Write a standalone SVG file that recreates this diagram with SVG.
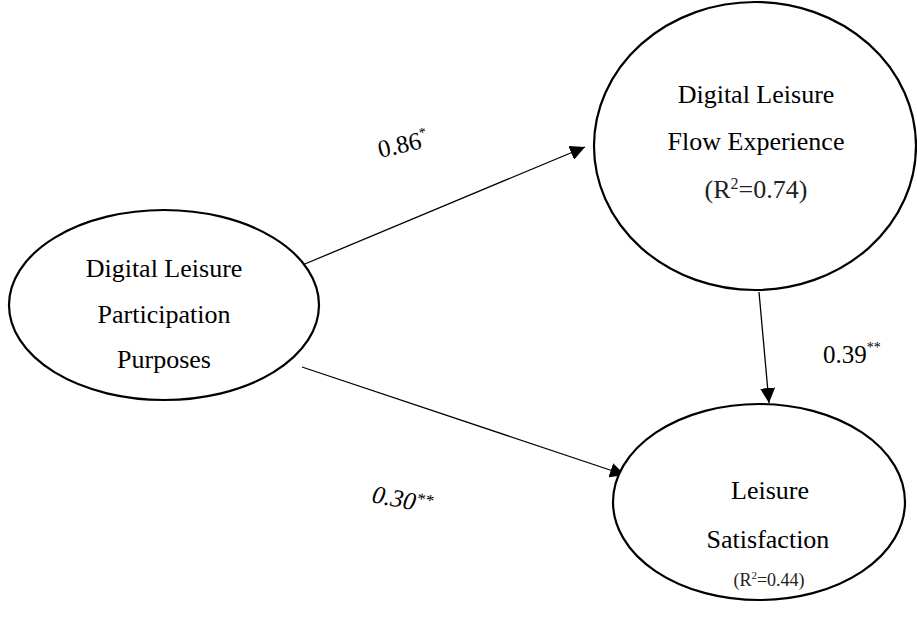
<svg xmlns="http://www.w3.org/2000/svg" width="917" height="632" viewBox="0 0 917 632">
<style>
.node{fill:#fff;stroke:#000;stroke-width:2.2}
.t{font-family:"Liberation Serif","Times New Roman",serif;font-size:26px;fill:#000;text-anchor:middle}
.r{fill:#222}
.lbl{font-family:"Liberation Serif","Times New Roman",serif;font-size:25px;fill:#000}
.edge{stroke:#000;stroke-width:1.3;fill:none;marker-end:url(#ah)}
</style>
<defs>
<marker id="ah" viewBox="0 0 10 10" refX="10" refY="5" markerWidth="15" markerHeight="15" markerUnits="userSpaceOnUse" orient="auto">
<path d="M0,0 L10,5 L0,10 z" fill="#000"/>
</marker>
</defs>
<rect width="917" height="632" fill="#fff"/>
<g id="connectors">
<line class="edge" x1="300" y1="266" x2="585" y2="147"/>
<line class="edge" x1="302" y1="367" x2="625" y2="475"/>
<line class="edge" x1="759" y1="292" x2="769" y2="403"/>
</g>
<g id="purposes">
<ellipse class="node" cx="164" cy="305" rx="155" ry="95"/>
<text class="t" x="164" y="277">Digital Leisure</text>
<text class="t" x="164" y="323">Participation</text>
<text class="t" x="164" y="368">Purposes</text>
</g>
<g id="flow">
<ellipse class="node" cx="755" cy="146" rx="161" ry="144"/>
<text class="t" x="756" y="103">Digital Leisure</text>
<text class="t" x="756" y="150">Flow Experience</text>
<text class="t r" x="756" y="198">(R<tspan style="font-size:16px" dy="-9">2</tspan><tspan dy="9">=0.74)</tspan></text>
</g>
<g id="satisfaction">
<ellipse class="node" cx="759" cy="502" rx="146" ry="98"/>
<text class="t" x="770" y="499">Leisure</text>
<text class="t" x="768" y="548">Satisfaction</text>
<text class="t r" x="769" y="586" style="font-size:18px">(R<tspan style="font-size:11px" dy="-7">2</tspan><tspan dy="7">=0.44)</tspan></text>
</g>
<g id="labels">
<text class="lbl" transform="translate(380,158) rotate(-13)">0.86<tspan style="font-size:14px" dy="-11">*</tspan></text>
<text class="lbl" font-style="italic" transform="translate(371,502) rotate(11)">0.30<tspan style="font-size:17px" dy="-7">**</tspan></text>
<text class="lbl" x="823" y="363">0.39<tspan style="font-size:14px" dy="-11">**</tspan></text>
</g>
</svg>
